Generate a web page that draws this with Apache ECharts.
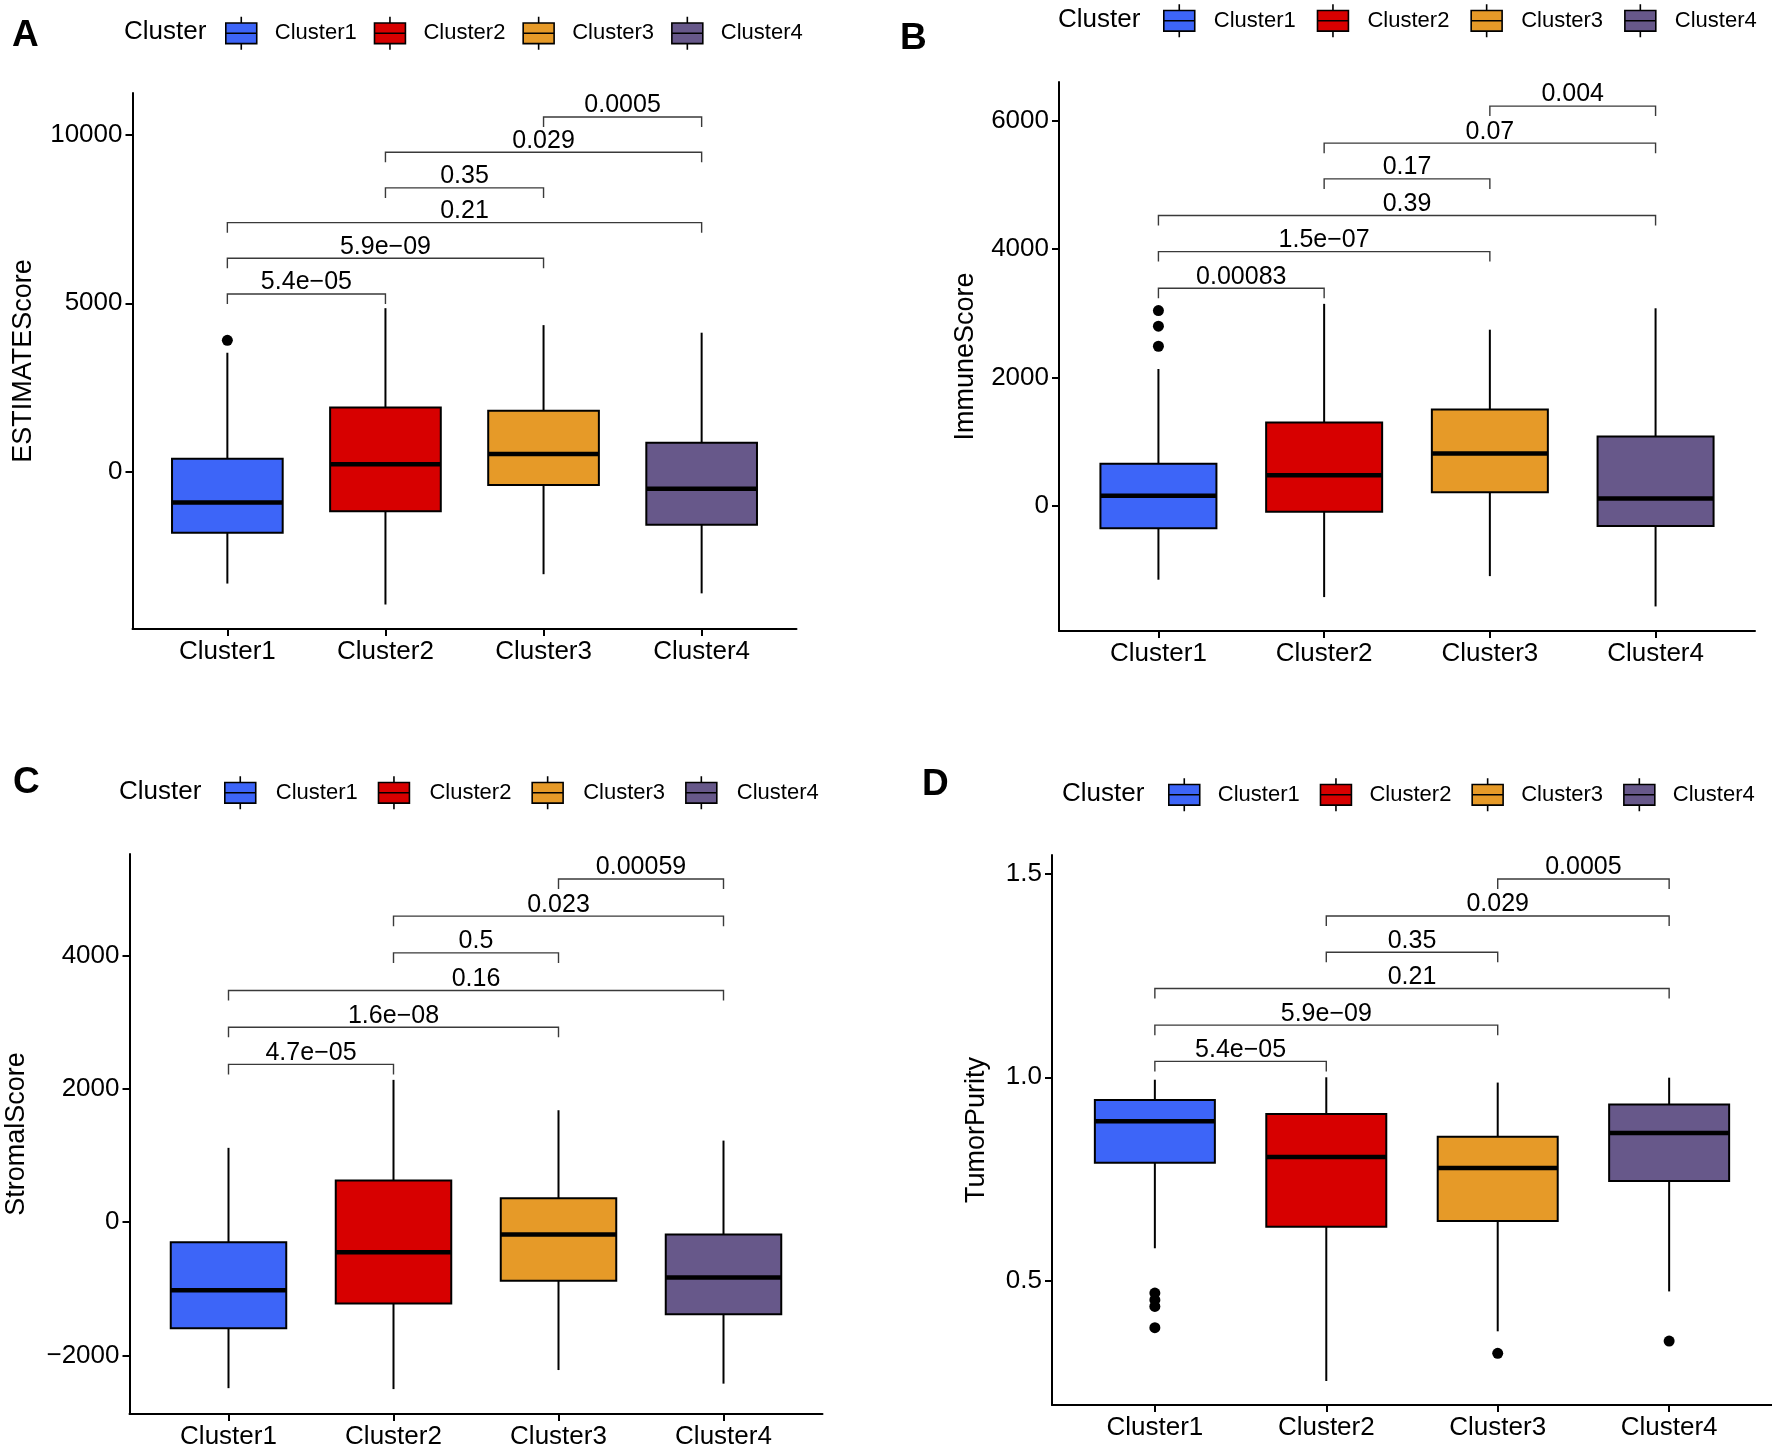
<!DOCTYPE html>
<html><head><meta charset="utf-8">
<script src="https://cdn.jsdelivr.net/npm/echarts@6/dist/echarts.min.js"></script>
<style>html,body{margin:0;padding:0;background:#fff}#c{width:1772px;height:1450px}</style>
</head><body><div id="c"></div>
<script>
// ---------------- data ----------------
const categories = ['Cluster1', 'Cluster2', 'Cluster3', 'Cluster4'];
const clusterColors = ['#3D65F8', '#D70000', '#E69A28', '#67588A'];
const comparisonPairs = [[1, 2], [1, 3], [1, 4], [2, 3], [2, 4], [3, 4]];

// Panel A: ESTIMATEScore  — each box: [lower whisker, Q1, median, Q3, upper whisker]
const estimateBox = [
  [-3320, -1812, -913, 384, 3532],
  [-3942, -1177, 225, 1905, 4855],
  [-3042, -397, 529, 1812, 4352],
  [-3611, -1574, -503, 860, 4127]
];
const estimateOutliers = [[1, 3902]];
const estimateTicks = [0, 5000, 10000];
const estimatePLabels = ['5.4e−05', '5.9e−09', '0.21', '0.35', '0.029', '0.0005'];
const estimateBracketY = [5278, 6336, 7394, 8426, 9484, 10529];

// Panel B: ImmuneScore
const immuneBox = [
  [-1156, -355, 153, 654, 2130],
  [-1427, -97, 473, 1295, 3146],
  [-1100, 209, 814, 1498, 2743],
  [-1573, -320, 111, 1079, 3077]
];
const immuneOutliers = [[1, 3042], [1, 2798], [1, 2485]];
const immuneTicks = [0, 2000, 4000, 6000];
const immunePLabels = ['0.00083', '1.5e−07', '0.39', '0.17', '0.07', '0.004'];
const immuneBracketY = [3390, 3961, 4525, 5095, 5652, 6230];

// Panel C: StromalScore
const stromalBox = [
  [-2492, -1594, -1022, -300, 1117],
  [-2506, -1219, -449, 627, 2138],
  [-2220, -878, -184, 361, 1682],
  [-2424, -1382, -831, -184, 1226]
];
const stromalOutliers = [];
const stromalTicks = [-2000, 0, 2000, 4000];
const stromalPLabels = ['4.7e−05', '1.6e−08', '0.16', '0.5', '0.023', '0.00059'];
const stromalBracketY = [2370, 2928, 3480, 4045, 4597, 5155];

// Panel D: TumorPurity
const purityBox = [
  [0.580, 0.790, 0.892, 0.944, 0.994],
  [0.254, 0.633, 0.804, 0.910, 1.000],
  [0.376, 0.647, 0.777, 0.854, 0.987],
  [0.474, 0.745, 0.863, 0.933, 0.999]
];
const purityOutliers = [[1, 0.470], [1, 0.453], [1, 0.437], [1, 0.385], [3, 0.322], [4, 0.352]];
const purityTicks = [0.5, 1.0, 1.5];
const purityPLabels = ['5.4e−05', '5.9e−09', '0.21', '0.35', '0.029', '0.0005'];
const purityBracketY = [1.039, 1.128, 1.218, 1.307, 1.396, 1.487];

// ---------------- layout / style ----------------
const FONT = '"Liberation Sans", Arial, Helvetica, sans-serif';
const BOX_WIDTH = 0.7;
const LEGEND_ICON = 'path://M0,6H30V26H0Z M0,16H30 M15,0V6 M15,26V32';

const panels = [
  { letter: 'A', yName: 'ESTIMATEScore', box: estimateBox, outliers: estimateOutliers, ticks: estimateTicks,
    pLabels: estimatePLabels, bracketY: estimateBracketY, yMin: -4669, yMax: 11243, fmt: v => String(v),
    grid: { left: 132.5, top: 93, width: 664, height: 536 }, nameGap: 95,
    letterPos: [12, 17], titlePos: [124, 19], legendPos: [225, 16], legendGap: 17, legendPad: 13 },
  { letter: 'B', yName: 'ImmuneScore', box: immuneBox, outliers: immuneOutliers, ticks: immuneTicks,
    pLabels: immunePLabels, bracketY: immuneBracketY, yMin: -1956, yMax: 6606, fmt: v => String(v),
    grid: { left: 1059, top: 82, width: 696, height: 549 }, nameGap: 80,
    letterPos: [900, 20], titlePos: [1058, 7], legendPos: [1163, 3.5], legendGap: 21, legendPad: 14 },
  { letter: 'C', yName: 'StromalScore', box: stromalBox, outliers: stromalOutliers, ticks: stromalTicks,
    pLabels: stromalPLabels, bracketY: stromalBracketY, yMin: -2880, yMax: 5530, fmt: v => (v < 0 ? '−' + (-v) : String(v)),
    grid: { left: 129.5, top: 854, width: 693, height: 560 }, nameGap: 99,
    letterPos: [13, 764], titlePos: [119, 779], legendPos: [224, 775.5], legendGap: 20, legendPad: 15 },
  { letter: 'D', yName: 'TumorPurity', box: purityBox, outliers: purityOutliers, ticks: purityTicks,
    pLabels: purityPLabels, bracketY: purityBracketY, yMin: 0.195, yMax: 1.546, fmt: v => v.toFixed(1),
    grid: { left: 1052, top: 855, width: 720, height: 550 }, nameGap: 62,
    letterPos: [922, 766], titlePos: [1062, 781], legendPos: [1168, 777.5], legendGap: 20, legendPad: 13 }
];

function boxRenderer(color) {
  return function (params, api) {
    const x = api.value(0);
    const lo = api.coord([x, api.value(1)]);
    const q1 = api.coord([x, api.value(2)]);
    const md = api.coord([x, api.value(3)]);
    const q3 = api.coord([x, api.value(4)]);
    const hi = api.coord([x, api.value(5)]);
    const hw = api.size([BOX_WIDTH, 0])[0] / 2;
    return {
      type: 'group', children: [
        { type: 'line', shape: { x1: lo[0], y1: lo[1], x2: q1[0], y2: q1[1] }, style: { stroke: '#000', lineWidth: 2 } },
        { type: 'line', shape: { x1: q3[0], y1: q3[1], x2: hi[0], y2: hi[1] }, style: { stroke: '#000', lineWidth: 2 } },
        { type: 'rect', shape: { x: q1[0] - hw, y: q3[1], width: hw * 2, height: q1[1] - q3[1] },
          style: { fill: color, stroke: '#000', lineWidth: 2 } },
        { type: 'line', shape: { x1: md[0] - hw, y1: md[1], x2: md[0] + hw, y2: md[1] }, style: { stroke: '#000', lineWidth: 4.5 } }
      ]
    };
  };
}

function bracketRenderer(labels) {
  return function (params, api) {
    const y = api.value(2);
    const a = api.coord([api.value(0), y]);
    const b = api.coord([api.value(1), y]);
    const t = 10;
    return {
      type: 'group', children: [
        { type: 'polyline', shape: { points: [[a[0], a[1] + t], [a[0], a[1]], [b[0], b[1]], [b[0], b[1] + t]] },
          style: { stroke: '#3a3a3a', lineWidth: 1.4, fill: null } },
        { type: 'text', x: (a[0] + b[0]) / 2, y: a[1] + 1,
          style: { text: labels[params.dataIndex], fill: '#000', fontSize: 25, fontFamily: FONT, align: 'center', verticalAlign: 'bottom' } }
      ]
    };
  };
}

const option = { animation: false, backgroundColor: '#fff', title: [], legend: [], grid: [], xAxis: [], yAxis: [], series: [] };

panels.forEach((p, i) => {
  option.grid.push(Object.assign({ containLabel: false }, p.grid));
  option.title.push({ text: p.letter, left: p.letterPos[0], top: p.letterPos[1], padding: 0,
    textStyle: { fontSize: 37, fontWeight: 'bold', color: '#000', fontFamily: FONT } });
  option.title.push({ text: 'Cluster', left: p.titlePos[0], top: p.titlePos[1], padding: 0,
    textStyle: { fontSize: 26, fontWeight: 'normal', color: '#000', fontFamily: FONT } });
  option.legend.push({
    left: p.legendPos[0], top: p.legendPos[1], padding: 0, orient: 'horizontal',
    itemWidth: 31, itemHeight: 33, itemGap: p.legendGap, selectedMode: false,
    textStyle: { fontSize: 22, color: '#000', fontFamily: FONT, padding: [0, 0, 0, p.legendPad] },
    data: categories.map((c, k) => ({ name: c, icon: LEGEND_ICON,
      itemStyle: { color: clusterColors[k], borderColor: '#000', borderWidth: 1.6 } }))
  });
  option.xAxis.push({
    type: 'value', gridIndex: i, min: 0.4, max: 4.6, splitLine: { show: false },
    axisLine: { show: true, onZero: false, lineStyle: { color: '#000', width: 2 } },
    axisTick: { show: true, customValues: [1, 2, 3, 4], length: 7, lineStyle: { color: '#000', width: 2 } },
    axisLabel: { customValues: [1, 2, 3, 4], formatter: v => categories[Math.round(v) - 1], color: '#000',
      fontSize: 26, margin: 10, fontFamily: FONT }
  });
  option.yAxis.push({
    type: 'value', gridIndex: i, min: p.yMin, max: p.yMax, splitLine: { show: false },
    name: p.yName, nameLocation: 'middle', nameGap: p.nameGap, nameRotate: 90,
    nameTextStyle: { fontSize: 27, color: '#000', fontFamily: FONT },
    axisLine: { show: true, onZero: false, lineStyle: { color: '#000', width: 2 } },
    axisTick: { show: true, customValues: p.ticks, length: 7, lineStyle: { color: '#000', width: 2 } },
    axisLabel: { customValues: p.ticks, formatter: p.fmt, color: '#000', fontSize: 26, margin: 10, fontFamily: FONT }
  });
  categories.forEach((c, k) => {
    option.series.push({
      name: c, type: 'custom', xAxisIndex: i, yAxisIndex: i,
      itemStyle: { color: clusterColors[k] },
      encode: { x: 0, y: [1, 2, 3, 4, 5] },
      data: [[k + 1].concat(p.box[k])],
      renderItem: boxRenderer(clusterColors[k]), z: 2, silent: true
    });
  });
  option.series.push({
    name: 'outliers-' + p.letter, type: 'scatter', xAxisIndex: i, yAxisIndex: i,
    data: p.outliers, symbolSize: 11, itemStyle: { color: '#000', opacity: 1 }, silent: true, z: 3
  });
  option.series.push({
    name: 'brackets-' + p.letter, type: 'custom', xAxisIndex: i, yAxisIndex: i,
    encode: { x: [0, 1], y: 2 },
    data: comparisonPairs.map((pr, j) => [pr[0], pr[1], p.bracketY[j]]),
    renderItem: bracketRenderer(p.pLabels), z: 4, silent: true
  });
});

const chart = echarts.init(document.getElementById('c'), null, { renderer: 'canvas' });
chart.setOption(option);
</script>
</body></html>
